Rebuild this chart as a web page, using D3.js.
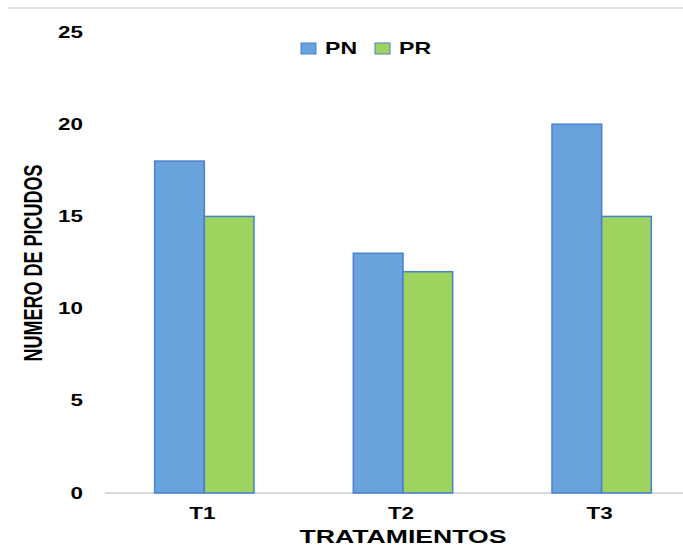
<!DOCTYPE html>
<html>
<head>
<meta charset="utf-8">
<script src="https://cdn.jsdelivr.net/npm/d3@7"></script>
<style>
  body { margin: 0; background: #fff; }
  text { font-family: "Liberation Sans", Arial, sans-serif; fill: #000; }
</style>
</head>
<body>
<div id="chart"></div>
<script>
var categories = ["T1", "T2", "T3"],
  seriesNames = ["PN", "PR"],
  pnValues = [18, 13, 20],
  prValues = [15, 12, 15],
  yTicks = [0, 5, 10, 15, 20, 25];

var width = 683,
  height = 546,
  stretch = 1.4,
  margin = {left: 105, right: -18, top: 32, bottom: 53},
  colors = {PN: "#68a4db", PR: "#9dd35e"},
  stroke = "#4a7fd0";

var svg = d3.select("#chart").append("svg")
  .attr("width", width)
  .attr("height", height);

// thin rule along the top of the picture
svg.append("line")
  .attr("x1", 8).attr("x2", width)
  .attr("y1", 8).attr("y2", 8)
  .style("stroke", "#d9d9d9")
  .style("stroke-width", 1.5);

var x = d3.scaleBand()
  .domain(categories)
  .range([margin.left, width - margin.right])
  .paddingInner(0.5)
  .paddingOuter(0.25);

var xs = d3.scaleBand()
  .domain(seriesNames)
  .range([0, x.bandwidth()]);

var y = d3.scaleLinear()
  .domain([0, 25])
  .range([height - margin.bottom, margin.top]);

var rows = categories.map(function(c, i) {
  return {cat: c, PN: pnValues[i], PR: prValues[i]};
});

// baseline
svg.append("line")
  .attr("x1", margin.left).attr("x2", width)
  .attr("y1", y(0)).attr("y2", y(0))
  .style("stroke", "#d9d9d9")
  .style("stroke-width", 2);

// bars
var groups = svg.selectAll(".grp")
  .data(rows)
  .enter().append("g")
  .attr("class", "grp")
  .attr("transform", d => "translate(" + x(d.cat) + ",0)");

groups.selectAll("rect")
  .data(d => seriesNames.map(s => ({key: s, value: d[s]})))
  .enter().append("rect")
  .attr("x", d => xs(d.key))
  .attr("y", d => y(d.value))
  .attr("width", xs.bandwidth())
  .attr("height", d => y(0) - y(d.value))
  .style("fill", d => colors[d.key])
  .style("stroke", stroke)
  .style("stroke-width", 1.5);

// y axis (labels only)
var yAxis = svg.append("g")
  .attr("transform", "translate(" + margin.left + ",0)")
  .call(d3.axisLeft(y).tickValues(yTicks).tickSize(0).tickPadding(0));
yAxis.select(".domain").remove();
yAxis.selectAll("text")
  .attr("x", -22 / stretch)
  .attr("transform", "scale(" + stretch + ",1)")
  .style("font-family", "'Liberation Sans', Arial, sans-serif")
  .style("font-size", "16px")
  .style("font-weight", "bold");

// x axis labels
var xAxis = svg.append("g")
  .attr("transform", "translate(0," + y(0) + ")")
  .call(d3.axisBottom(x).tickSize(0).tickPadding(0));
xAxis.select(".domain").remove();
xAxis.selectAll(".tick text")
  .attr("y", 0)
  .attr("dy", 0)
  .attr("transform", "translate(-2,26) scale(" + stretch + ",1)")
  .style("font-family", "'Liberation Sans', Arial, sans-serif")
  .style("font-size", "16px")
  .style("font-weight", "bold");

// axis titles
svg.append("text")
  .attr("transform", "translate(" + (x("T2") + x.bandwidth() / 2) + ",543) scale(" + stretch + ",1)")
  .attr("text-anchor", "middle")
  .style("font-size", "19px")
  .style("font-weight", "bold")
  .text("TRATAMIENTOS");

svg.append("text")
  .attr("transform", "translate(42,263) scale(" + stretch + ",1) rotate(-90)")
  .attr("text-anchor", "middle")
  .style("font-size", "18px")
  .style("font-weight", "bold")
  .text("NUMERO DE PICUDOS");

// legend
var legendX = [301, 375];
var legend = svg.selectAll(".key")
  .data(seriesNames)
  .enter().append("g")
  .attr("class", "key")
  .attr("transform", (d, i) => "translate(" + legendX[i] + ",43)");

legend.append("rect")
  .attr("width", 15)
  .attr("height", 11)
  .style("fill", d => colors[d])
  .style("stroke", stroke)
  .style("stroke-width", 1);

legend.append("text")
  .attr("transform", "translate(24,11) scale(" + stretch + ",1)")
  .style("font-size", "16.5px")
  .style("font-weight", "bold")
  .text(d => d);
</script>
</body>
</html>
